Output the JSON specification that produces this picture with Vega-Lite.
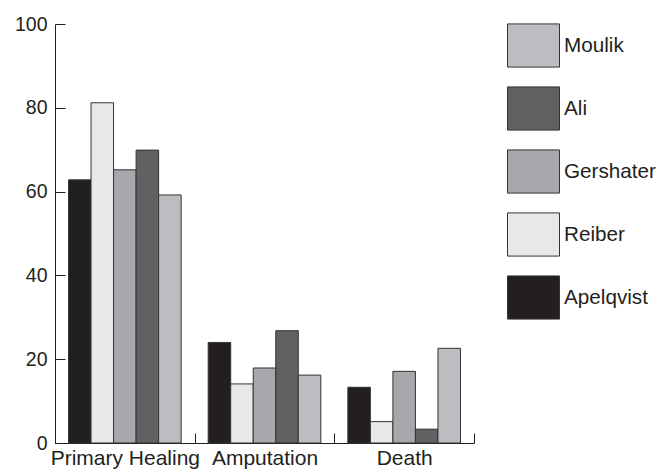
{
  "$schema": "https://vega.github.io/schema/vega-lite/v6.json",
  "width": 419,
  "height": 419,
  "autosize": {"type": "none"},
  "padding": {"left": 55, "top": 24, "right": 196, "bottom": 28},
  "background": "white",
  "config": {
    "view": {"stroke": null},
    "font": "Liberation Sans",
    "axis": {"grid": false, "domainColor": "#231f20", "tickColor": "#231f20", "labelColor": "#231f20", "labelFont": "Liberation Sans", "labelFontSize": 19.5, "domainWidth": 1, "tickWidth": 1}
  },
  "data": {
    "values": [
      {"outcome": "Primary Healing", "study": "Apelqvist", "value": 62.8},
      {"outcome": "Primary Healing", "study": "Reiber", "value": 81.2},
      {"outcome": "Primary Healing", "study": "Gershater", "value": 65.2},
      {"outcome": "Primary Healing", "study": "Ali", "value": 69.9},
      {"outcome": "Primary Healing", "study": "Moulik", "value": 59.2},
      {"outcome": "Amputation", "study": "Apelqvist", "value": 24.0},
      {"outcome": "Amputation", "study": "Reiber", "value": 14.1},
      {"outcome": "Amputation", "study": "Gershater", "value": 17.9},
      {"outcome": "Amputation", "study": "Ali", "value": 26.8},
      {"outcome": "Amputation", "study": "Moulik", "value": 16.2},
      {"outcome": "Death", "study": "Apelqvist", "value": 13.3},
      {"outcome": "Death", "study": "Reiber", "value": 5.1},
      {"outcome": "Death", "study": "Gershater", "value": 17.1},
      {"outcome": "Death", "study": "Ali", "value": 3.3},
      {"outcome": "Death", "study": "Moulik", "value": 22.6}
    ]
  },
  "mark": {"type": "bar", "stroke": "#333333", "strokeWidth": 1},
  "encoding": {
    "x": {
      "field": "outcome",
      "type": "nominal",
      "sort": ["Primary Healing", "Amputation", "Death"],
      "scale": {"paddingInner": 0, "paddingOuter": 0},
      "axis": {"title": null, "labelAngle": 0, "tickBand": "extent", "tickSize": -10, "labelPadding": 14, "labelFontSize": 21}
    },
    "xOffset": {
      "field": "study",
      "type": "nominal",
      "sort": ["Apelqvist", "Reiber", "Gershater", "Ali", "Moulik"],
      "scale": {"paddingInner": 0, "paddingOuter": 0.6}
    },
    "y": {
      "field": "value",
      "type": "quantitative",
      "scale": {"domain": [0, 100], "nice": false},
      "axis": {"title": null, "values": [0, 20, 40, 60, 80, 100], "tickSize": -10, "labelPadding": 18}
    },
    "color": {
      "field": "study",
      "type": "nominal",
      "scale": {
        "domain": ["Apelqvist", "Reiber", "Gershater", "Ali", "Moulik"],
        "range": ["#231f20", "#e8e8ea", "#a7a8ab", "#616163", "#bcbdc0"]
      },
      "legend": {
        "title": null,
        "orient": "none",
        "legendX": 452,
        "legendY": -5,
        "values": ["Moulik", "Ali", "Gershater", "Reiber", "Apelqvist"],
        "symbolType": "M-1,-0.83H1V0.83H-1Z",
        "symbolSize": 2704,
        "symbolStrokeColor": "#333333",
        "symbolStrokeWidth": 1,
        "symbolOpacity": 1,
        "labelFont": "Liberation Sans",
        "labelFontSize": 20.7,
        "labelColor": "#231f20",
        "labelOffset": 4,
        "rowPadding": 12
      }
    }
  }
}
